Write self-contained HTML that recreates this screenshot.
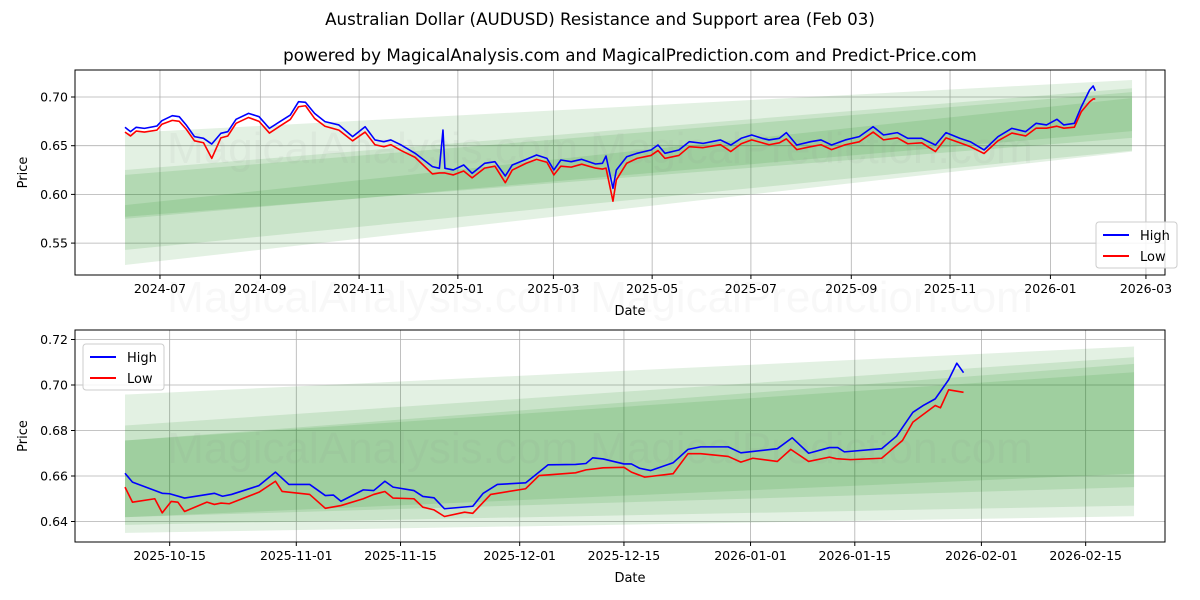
<!DOCTYPE html>
<html><head><meta charset="utf-8"><style>
body{margin:0;background:#fff;}
svg{display:block;font-family:"DejaVu Sans","Liberation Sans",sans-serif;}
</style></head><body>
<svg id="chart" width="1200" height="600" viewBox="0 0 1200 600">
<rect width="1200" height="600" fill="#fff"/>
<text x="600" y="25" text-anchor="middle" font-size="16.7">Australian Dollar (AUDUSD) Resistance and Support area (Feb 03)</text>
<text x="630" y="61" text-anchor="middle" font-size="16.7">powered by MagicalAnalysis.com and MagicalPrediction.com and Predict-Price.com</text>
<g id="top"></g><g id="bot"></g>
</svg>
<script>
// ---- top chart data (day offsets from 2024-06-09) ----
const topDays=[0,3.4,6.9,12,19.7,22.8,29.2,33.5,37.8,42.9,48.5,53.6,59.2,63.5,68.6,76.3,82.8,89.2,95.6,102.1,107.2,111.5,117.1,123.5,132.1,140.6,148.3,154.4,159.9,164.2,170.6,179.2,189.9,194.2,196.4,197.6,202.8,209.2,214.4,222.1,228.5,234.9,239.2,247.8,254.2,260.6,264.9,269.2,275.6,282.1,290.6,294.9,297.1,301.4,303.5,309.9,316.3,324.9,329.2,333.5,342.1,348.5,357.1,367.8,374.2,380.6,387.1,393.5,397.8,404.2,408.5,414.9,423.5,429.9,436.4,444.9,453.5,462.1,468.5,477.1,483.5,492.1,500.6,507.1,515.6,522.1,530.6,539.2,547.8,556.3,562.8,569.2,575.6,579.9,586.4,590.7,595.8,598.0,599.3];
const topHigh=[0.6689,0.6644,0.6689,0.6678,0.6702,0.6757,0.6808,0.6798,0.6713,0.6593,0.6576,0.6517,0.6627,0.6644,0.6771,0.6832,0.6798,0.6678,0.6747,0.6815,0.6952,0.6945,0.6832,0.6747,0.6713,0.6593,0.6695,0.6559,0.6541,0.6559,0.6507,0.6422,0.6285,0.6268,0.6661,0.6268,0.6251,0.6302,0.6216,0.6319,0.6336,0.6189,0.6302,0.6360,0.6405,0.6370,0.6251,0.6353,0.6336,0.6360,0.6312,0.6319,0.6394,0.6062,0.6251,0.6387,0.6422,0.6456,0.6507,0.6422,0.6456,0.6541,0.6524,0.6559,0.6507,0.6576,0.6610,0.6576,0.6559,0.6576,0.6634,0.6507,0.6541,0.6559,0.6507,0.6559,0.6593,0.6695,0.6610,0.6634,0.6576,0.6576,0.6507,0.6634,0.6576,0.6541,0.6456,0.6593,0.6678,0.6644,0.6730,0.6713,0.6771,0.6713,0.6730,0.6900,0.7072,0.7113,0.7065];
const topLow=[0.6640,0.6600,0.6650,0.6640,0.6660,0.6720,0.6760,0.6750,0.6670,0.6550,0.6530,0.6370,0.6580,0.6600,0.6730,0.6790,0.6750,0.6630,0.6700,0.6770,0.6900,0.6910,0.6780,0.6700,0.6660,0.6550,0.6640,0.6510,0.6490,0.6510,0.6450,0.6380,0.6210,0.6220,0.6220,0.6220,0.6200,0.6240,0.6170,0.6270,0.6290,0.6120,0.6250,0.6320,0.6360,0.6330,0.6200,0.6290,0.6280,0.6310,0.6270,0.6260,0.6270,0.5930,0.6150,0.6320,0.6370,0.6400,0.6450,0.6370,0.6400,0.6490,0.6480,0.6510,0.6440,0.6520,0.6560,0.6530,0.6510,0.6530,0.6570,0.6460,0.6490,0.6510,0.6460,0.6510,0.6540,0.6640,0.6560,0.6580,0.6520,0.6530,0.6440,0.6580,0.6530,0.6490,0.6420,0.6550,0.6630,0.6600,0.6680,0.6680,0.6700,0.6680,0.6690,0.6850,0.6950,0.6980,0.6980];
const topBandTopStart=[0.663,0.625,0.620,0.589];
const topBandTopEnd=[0.7175,0.709,0.705,0.699];
const topBandBotStart=[0.5275,0.543,0.577,0.575];
const topBandBotEnd=[0.6439,0.645,0.658,0.665];
const topBandDays=[0,622];
const topYTicks=[0.55,0.60,0.65,0.70];
const topXTickDays=[21.6,83.6,144.6,205.6,264.6,325.6,386.6,448.6,509.6,571.6,630.6];
const topXTickLabels=["2024-07","2024-09","2024-11","2025-01","2025-03","2025-05","2025-07","2025-09","2025-11","2026-01","2026-03"];
// ---- bottom chart data (day offsets from 2025-10-09) ----
const botHighDays=[0,1,5,6,8,12,13.1,14.3,18,20.2,22,24.8,26.9,28,29,32,33.4,34.9,36,38.8,40,41.5,42.9,46.7,48.1,50,53.8,56.8,60.5,61.9,62.8,64.2,67,68,69.1,70.6,73.6,75.6,77.3,81,82.7,87.6,89.6,91.8,94.6,95.7,96.6,101.6,103.6,105.8,107.2,108.8,110.6,111.7,112.6];
const botHigh=[0.6612,0.6573,0.6524,0.6522,0.6503,0.6524,0.6511,0.6519,0.6558,0.6617,0.6563,0.6563,0.6514,0.6516,0.6489,0.6539,0.6536,0.6577,0.6551,0.6536,0.6510,0.6504,0.6456,0.6467,0.6524,0.6563,0.6570,0.6649,0.6651,0.6655,0.6680,0.6675,0.6653,0.6653,0.6634,0.6624,0.6658,0.6717,0.6728,0.6728,0.6702,0.6720,0.6768,0.6700,0.6725,0.6725,0.6706,0.6720,0.6775,0.6880,0.6910,0.6939,0.7023,0.7096,0.7054];
const botLowDays=[0,1,4,5,6.2,7.1,8,11,12,12.9,14,18,20.2,21.1,24.8,26.9,29,32,33.4,34.9,36,38.8,40,41.5,42.9,45.6,46.7,49.1,53.8,55.6,60.5,61.9,64.2,67,68,69.8,73.6,75.6,77.3,81,82.7,84.3,87.6,89.4,91.8,94.6,95.5,97.4,101.6,104.4,105.8,108.8,109.5,110.6,112.6];
const botLow=[0.6551,0.6485,0.6500,0.6438,0.6488,0.6485,0.6444,0.6485,0.6475,0.6481,0.6478,0.6529,0.6577,0.6532,0.6519,0.6458,0.6470,0.6500,0.6519,0.6532,0.6503,0.6500,0.6463,0.6451,0.6422,0.6441,0.6436,0.6519,0.6544,0.6602,0.6614,0.6627,0.6636,0.6638,0.6617,0.6595,0.6610,0.6698,0.6698,0.6686,0.6661,0.6678,0.6664,0.6717,0.6664,0.6683,0.6676,0.6672,0.6678,0.6756,0.6837,0.6910,0.6900,0.6979,0.6968];
const botBandTopStart=[0.6958,0.6822,0.6756,0.6756];
const botBandTopEnd=[0.7169,0.7122,0.7093,0.7056];
const botBandBotStart=[0.6350,0.6385,0.6419,0.6419];
const botBandBotEnd=[0.6423,0.6470,0.6551,0.6610];
const botBandDays=[0,135.5];
const botYTicks=[0.64,0.66,0.68,0.70,0.72];
const botXTickDays=[6,23,37,53,67,84,98,115,129];
const botXTickLabels=["2025-10-15","2025-11-01","2025-11-15","2025-12-01","2025-12-15","2026-01-01","2026-01-15","2026-02-01","2026-02-15"];

const NS="http://www.w3.org/2000/svg";
function mk(parent,tag,attrs){const e=document.createElementNS(NS,tag);for(const k in attrs)e.setAttribute(k,attrs[k]);parent.appendChild(e);return e;}

function drawPanel(g,o){
  const X=d=>o.x0+d*o.kx, Y=v=>o.y0+(o.v0-v)*o.ky;
  const L=75,R=1165,T=o.top,B=o.bottom;
  o.xt.forEach((d,i)=>{const l=mk(g,'line',{x1:X(d),x2:X(d),y1:T,y2:B,stroke:'#b0b0b0','stroke-width':0.8});
    
    });
  o.yt.forEach(v=>{const l=mk(g,'line',{x1:L,x2:R,y1:Y(v),y2:Y(v),stroke:'#b0b0b0','stroke-width':0.8});
    
    });
  for(let i=0;i<o.bts.length;i++){
    const d0=o.bd[0],d1=o.bd[1];
    const p=mk(g,'polygon',{points:`${X(d0)},${Y(o.bts[i])} ${X(d1)},${Y(o.bte[i])} ${X(d1)},${Y(o.bbe[i])} ${X(d0)},${Y(o.bbs[i])}`,fill:'rgb(0,128,0)','fill-opacity':0.11});
    
    
  }
  const w=mk(g,'text',{x:600,y:o.wm,'text-anchor':'middle','font-size':44,fill:'#888','fill-opacity':0.08,'font-family':'"Liberation Sans",sans-serif'});
  w.textContent='MagicalAnalysis.com    MagicalPrediction.com';
  
  
  const ph=mk(g,'polyline',{points:o.hd.map((d,i)=>X(d)+','+Y(o.hv[i])).join(' '),fill:'none',stroke:'#0000ff','stroke-width':1.6,'stroke-linejoin':'round'});
  
  
  const pl=mk(g,'polyline',{points:o.ld.map((d,i)=>X(d)+','+Y(o.lv[i])).join(' '),fill:'none',stroke:'#ff0000','stroke-width':1.6,'stroke-linejoin':'round'});
  
  
  const f=mk(g,'rect',{x:L,y:T,width:R-L,height:B-T,fill:'none',stroke:'#000','stroke-width':1});
  
  
  o.xt.forEach((d,i)=>{mk(g,'line',{x1:X(d),x2:X(d),y1:B,y2:B+4,stroke:'#000'});
    const t=mk(g,'text',{x:X(d),y:B+18,'text-anchor':'middle','font-size':12.5});t.textContent=o.xl[i];
    
    });
  o.yt.forEach(v=>{mk(g,'line',{x1:L-4,x2:L,y1:Y(v),y2:Y(v),stroke:'#000'});
    const t=mk(g,'text',{x:L-7,y:Y(v)+4.5,'text-anchor':'end','font-size':12.5});t.textContent=v.toFixed(2);
    
    });
  const xa=mk(g,'text',{x:630,y:B+40,'text-anchor':'middle','font-size':13});xa.textContent='Date';
  
  
  const ya=mk(g,'text',{x:0,y:0,'text-anchor':'middle','font-size':13,transform:`translate(27,${(T+B)/2}) rotate(-90)`});ya.textContent='Price';
  
  
  const lg=mk(g,'g',{});
  
  
  mk(lg,'rect',{x:o.lx,y:o.ly,width:81,height:46,rx:3,fill:'#fff','fill-opacity':0.85,stroke:'#ccc'});
  [['High','#0000ff'],['Low','#ff0000']].forEach((e,i)=>{
    const yy=o.ly+13+i*21;
    mk(lg,'line',{x1:o.lx+7,x2:o.lx+33,y1:yy,y2:yy,stroke:e[1],'stroke-width':2});
    const t=mk(lg,'text',{x:o.lx+44,y:yy+5,'font-size':13});t.textContent=e[0];
    
    
  });
}
drawPanel(document.getElementById('top'),{x0:125,kx:1.619,y0:97,v0:0.70,ky:974,top:70,bottom:275,
  xt:topXTickDays,xl:topXTickLabels,yt:topYTicks,hd:topDays,hv:topHigh,ld:topDays,lv:topLow,
  bts:topBandTopStart,bte:topBandTopEnd,bbs:topBandBotStart,bbe:topBandBotEnd,bd:topBandDays,wm:163,lx:1096,ly:222});
drawPanel(document.getElementById('bot'),{x0:125,kx:7.447,y0:385,v0:0.70,ky:2275,top:330,bottom:542,
  xt:botXTickDays,xl:botXTickLabels,yt:botYTicks,hd:botHighDays,hv:botHigh,ld:botLowDays,lv:botLow,
  bts:botBandTopStart,bte:botBandTopEnd,bbs:botBandBotStart,bbe:botBandBotEnd,bd:botBandDays,wm:463,lx:83,ly:344});
const wm2=mk(document.getElementById('chart'),'text',{x:600,y:312,'text-anchor':'middle','font-size':44,fill:'#888','fill-opacity':0.06,'font-family':'"Liberation Sans",sans-serif'});
wm2.textContent='MagicalAnalysis.com    MagicalPrediction.com';


</script>
</body></html>
